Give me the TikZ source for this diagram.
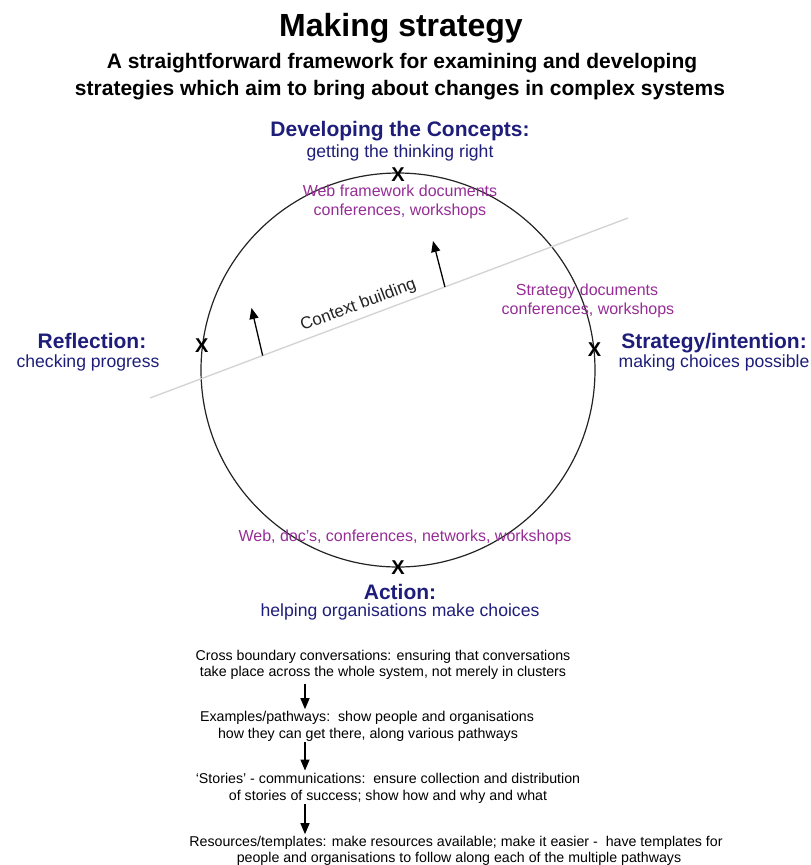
\documentclass[tikz,border=0pt]{standalone}
\usepackage{fontspec}
\setmainfont{Liberation Sans}
\usetikzlibrary{arrows.meta,calc}
\definecolor{navy}{RGB}{30,30,122}
\definecolor{plum}{RGB}{150,45,150}
\definecolor{lgrey}{RGB}{212,212,212}
\definecolor{ink}{RGB}{35,35,35}
\begin{document}
\begin{tikzpicture}[x=1pt,y=-1pt,
  every node/.style={inner sep=0pt},
  title/.style={font=\fontsize{32}{36}\selectfont\bfseries, anchor=base},
  sub/.style={font=\fontsize{21}{24}\selectfont\bfseries, anchor=base},
  head/.style={font=\fontsize{21}{24}\selectfont\bfseries, text=navy, anchor=base},
  headsub/.style={font=\fontsize{17.6}{20}\selectfont, text=navy, anchor=base},
  media/.style={font=\fontsize{16}{19}\selectfont, text=plum, anchor=base},
  body/.style={font=\fontsize{14.2}{16}\selectfont, anchor=base},
  xmark/.style={font=\fontsize{20}{20}\selectfont\bfseries},
  arr/.style={-{Triangle[length=11pt,width=9pt]}, line width=1.3pt},
]
\useasboundingbox (0,0) rectangle (811,865);

% titles
\node[title] (t) at (401,36) {Making strategy};
\node[sub] (s1) at (402,68) {A straightforward framework for examining and developing};
\node[sub] (s2) at (400,95) {strategies which aim to bring about changes in complex systems};

% circle
\node[draw=ink, line width=1.2pt, circle, minimum size=394pt] (c) at (398,370) {};
\node[xmark] (xt) at ([yshift=-2pt]c.90) {X};
\node[xmark] (xl) at (c.173.6) {X};
\node[xmark] (xr) at (c.6.7) {X};
\node[xmark] (xb) at (c.270) {X};

% headings
\node[head] (h1) at (400,136) {Developing the Concepts:};
\node[headsub] (h1s) at (400,157) {getting the thinking right};
\node[head] (h2) at (92,348) {Reflection:};
\node[headsub] (h2s) at (88,367) {checking progress};
\node[head] (h3) at (714,348) {Strategy/intention:};
\node[headsub] (h3s) at (714,367) {making choices possible};
\node[head] (h4) at (400,599) {Action:};
\node[headsub] (h4s) at (400,616) {helping organisations make choices};

% media
\node[media] (m1) at (400,196) {Web framework documents};
\node[media] (m1b) at (400,215) {conferences, workshops};
\node[media] (m2) at (587,295) {Strategy documents};
\node[media] (m2b) at (588,314) {conferences, workshops};
\node[media] (m3) at (405,541) {Web, doc's, conferences, networks, workshops};

% context line
\coordinate (g1) at (150,398);
\coordinate (g2) at (628,218);
\draw[lgrey, line width=1.4pt] (g1) -- (g2);
\coordinate (a1) at ($(g1)!0.2357!(g2)$);
\coordinate (a2) at ($(g1)!0.617!(g2)$);
\coordinate (a1t) at (251.5,308);
\coordinate (a2t) at (433,241);
\draw[arr] (a1) -- (a1t);
\draw[arr] (a2) -- (a2t);
\node[font=\fontsize{17}{20}\selectfont, anchor=base, rotate=20.6, text=ink] (cb) at (360,309.5) {Context building};

% bottom list
\node[body] (b1a) at (383,660) {Cross boundary conversations: ensuring that conversations};
\node[body] (b1b) at (383,676.5) {take place across the whole system, not merely in clusters};
\node[body] (b2a) at (367,721.7) {Examples/pathways:\ \ show people and organisations};
\node[body] (b2b) at (368,738) {how they can get there, along various pathways};
\node[body] (b3a) at (388,783) {`Stories' - communications:\ \ ensure collection and distribution};
\node[body] (b3b) at (388,800) {of stories of success; show how and why and what};
\node[body] (b4a) at (456,846.7) {Resources/templates: make resources available; make it easier -\ \ have templates for};
\node[body] (b4b) at (459,862.5) {people and organisations to follow along each of the multiple pathways};

\coordinate (ax) at (305,0);
\draw[arr] ([yshift=-4pt]b1b.south -| ax) -- ([yshift=2pt]b2a.north -| ax);
\draw[arr] ([yshift=-1pt]b2b.south -| ax) -- ([yshift=2pt]b3a.north -| ax);
\draw[arr] ([yshift=-1pt]b3b.south -| ax) -- ([yshift=2pt]b4a.north -| ax);
\end{tikzpicture}
\end{document}
